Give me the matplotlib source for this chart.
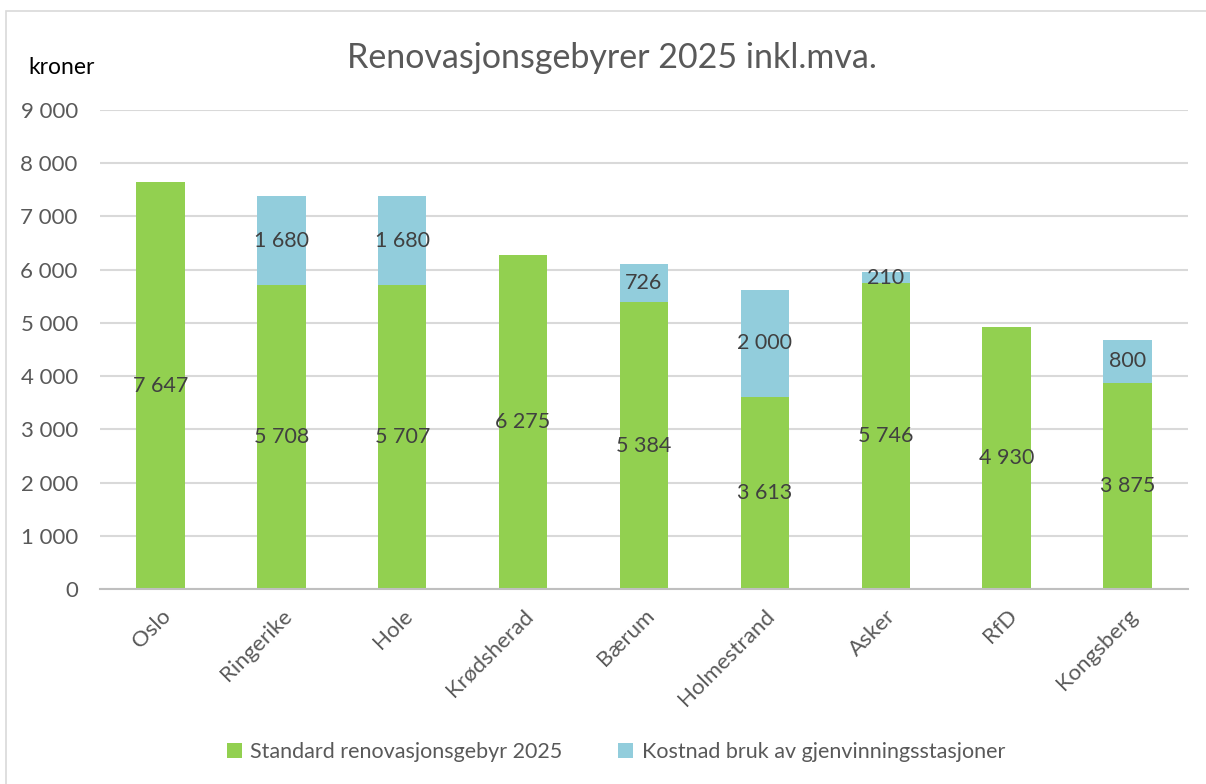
#!/usr/bin/env python3
"""Renovasjonsgebyrer 2025 - stacked bar chart (Excel style)."""

import matplotlib
matplotlib.use("Agg")
import matplotlib.pyplot as plt
from matplotlib.patches import Rectangle
from matplotlib.ticker import FuncFormatter

# ---------------------------------------------------------------------------
# Data
# ---------------------------------------------------------------------------
kommuner = ["Oslo", "Ringerike", "Hole", "Krødsherad", "Bærum",
            "Holmestrand", "Asker", "RfD", "Kongsberg"]
standard = [7647, 5708, 5707, 6275, 5384, 3613, 5746, 4930, 3875]
gjenvinning = [0, 1680, 1680, 0, 726, 2000, 210, 0, 800]

GREEN = "#92D050"
BLUE = "#92CDDC"
GRID = "#D9D9D9"
TEXT = "#595959"
LABEL = "#404040"


def fmt(v):
    return f"{int(v):,}".replace(",", " ")


plt.rcParams["font.family"] = ["Lato", "DejaVu Sans"]

fig = plt.figure(figsize=(12.06, 7.84), dpi=100)
fig.patches.append(Rectangle((6 / 1206, -0.01), 1.0, 1 - 11 / 784 + 0.01,
                             transform=fig.transFigure, fill=False,
                             edgecolor="#D9D9D9", linewidth=1.2))

ax = fig.add_axes([100 / 1206, 1 - 589 / 784, 1088 / 1206, 479 / 784])
x = list(range(len(kommuner)))
width = 0.4

ax.bar(x, standard, width=width, color=GREEN, zorder=2,
       label="Standard renovasjonsgebyr 2025")
ax.bar(x, gjenvinning, width=width, bottom=standard, color=BLUE, zorder=2,
       label="Kostnad bruk av gjenvinningsstasjoner")

# data labels centred in each segment
for i, (s, g) in enumerate(zip(standard, gjenvinning)):
    ax.text(i, s / 2, fmt(s), ha="center", va="center", fontsize=15.5,
            color=LABEL, zorder=3)
    if g:
        ax.text(i, s + g / 2, fmt(g), ha="center", va="center", fontsize=15.5,
                color=LABEL, zorder=3)

ax.set_xlim(-0.5, len(kommuner) - 0.5)
ax.set_ylim(0, 9000)
ax.set_yticks(range(0, 9001, 1000))
ax.yaxis.set_major_formatter(FuncFormatter(lambda v, _: fmt(v)))
ax.grid(True, axis="y", color=GRID, linewidth=1.5, zorder=0)
ax.set_axisbelow(True)
for side in ("top", "right", "left"):
    ax.spines[side].set_visible(False)
ax.spines["bottom"].set_color("#BFBFBF")
ax.spines["bottom"].set_linewidth(1.5)
ax.tick_params(axis="both", length=0, labelsize=16, colors=TEXT)
ax.tick_params(axis="y", pad=16)
ax.set_xticks(x)
ax.set_xticklabels(kommuner, rotation=45, ha="right", rotation_mode="anchor")
ax.tick_params(axis="x", pad=12)

fig.text(612 / 1206, 1 - 58 / 784, "Renovasjonsgebyrer 2025 inkl.mva.",
         ha="center", va="center", fontsize=24.5, color=TEXT)
fig.text(28 / 1206, 1 - 67 / 784, "kroner", ha="left", va="center",
         fontsize=16.5, color="black")

fig.legend(loc="center", bbox_to_anchor=(616 / 1206, 1 - 752 / 784), ncol=2,
           frameon=False, fontsize=15.5, handlelength=0.7, handleheight=0.7,
           handletextpad=0.4, columnspacing=2.6, labelcolor=TEXT)

fig.savefig("out.png", dpi=100)
